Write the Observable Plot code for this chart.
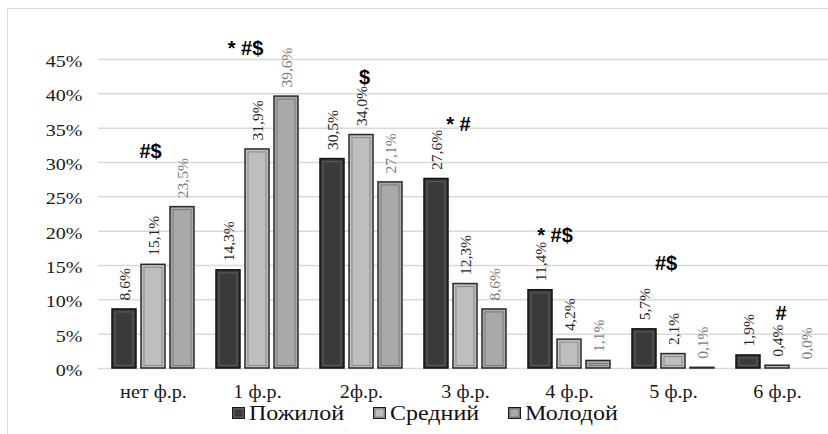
<!DOCTYPE html>
<html><head><meta charset="utf-8">
<script src="https://cdn.jsdelivr.net/npm/d3@7"></script>
<script src="https://cdn.jsdelivr.net/npm/@observablehq/plot@0.6"></script>
<style>
html,body{margin:0;padding:0;background:#fff;overflow:hidden;width:828px;height:434px;font-family:"Liberation Serif",serif;}
#wrap{position:relative;width:828px;height:434px;}
#frame{position:absolute;left:7px;top:8px;width:840px;height:450px;border:1px solid #d9d9d9;box-sizing:border-box;}
#chart{position:absolute;left:0;top:0;}
#legend{position:absolute;top:401px;left:0;width:828px;height:24px;font-family:"Liberation Serif",serif;font-size:20px;color:#111;}
.item{position:absolute;top:0;display:flex;align-items:center;height:24px;white-space:nowrap;}
.sw{width:13px;height:12px;box-sizing:border-box;border:1.5px solid #1a1a1a;margin-right:4px;flex:none;}
.item span{display:inline-block;transform:scaleX(1.2);transform-origin:left center;}
</style></head>
<body><div id="wrap"><div id="frame"></div><div id="chart"></div><div id="legend"></div></div>
<script>
const categories = ["нет ф.р.", "1 ф.р.", "2ф.р.", "3 ф.р.", "4 ф.р.", "5 ф.р.", "6 ф.р."];
const seriesNames = ["Пожилой", "Средний", "Молодой"];
const elderly = [8.6, 14.3, 30.5, 27.6, 11.4, 5.7, 1.9];
const middle  = [15.1, 31.9, 34.0, 12.3, 4.2, 2.1, 0.4];
const young   = [23.5, 39.6, 27.1, 8.6, 1.1, 0.1, 0.0];
const yTicks = [0, 5, 10, 15, 20, 25, 30, 35, 40, 45];
// significance marks
const annotCats = ["нет ф.р.", "1 ф.р.", "2ф.р.", "3 ф.р.", "4 ф.р.", "5 ф.р.", "6 ф.р."];
const annotText = ["#$", "* #$", "$", "* #", "* #$", "#$", "#"];
const annotY    = [31.6, 46.6, 42.3, 35.5, 19.4, 15.3, 8.0];
const annotDx   = [-3, -12, 3, -7, -14.5, -7.5, 3.5];

const SERIF = "Liberation Serif";
const fills   = ["#3b3b3b", "#bebebe", "#a9a9a9"];
const outers  = ["#111111", "#2a2a2a", "#2a2a2a"];
const inners  = ["#5a5a5a", "#8a8a8a", "#787878"];
const labelColors = ["#262626", "#262626", "#7a7a7a"];
const offsets = [-29, 0, 29];

const seriesValues = [elderly, middle, young];
const data = [];
seriesValues.forEach((vals, s) => vals.forEach((v, i) => data.push({cat: categories[i], series: s, value: v})));
const annots = annotCats.map((c, i) => ({cat: c, text: annotText[i], y: annotY[i], dx: annotDx[i]}));

const fmt = v => v.toFixed(1).replace(".", ",") + "%";

const marks = [
  Plot.gridY(yTicks, {stroke: "#d9d9d9", strokeOpacity: 1, strokeWidth: 1.5})
];
for (let s = 0; s < 3; s++) {
  const d = data.filter(r => r.series === s);
  marks.push(Plot.barY(d.filter(r => r.value > 0), {x: "cat", y: "value", fill: fills[s], stroke: outers[s], strokeWidth: 1.5, dx: offsets[s], insetLeft: 40, insetRight: 40}));
  marks.push(Plot.barY(d.filter(r => r.value > 0.6), {x: "cat", y: "value", fill: "none", stroke: inners[s], strokeWidth: 1, dx: offsets[s], insetLeft: 43, insetRight: 43, insetTop: 3, insetBottom: 2.5}));
  marks.push(Plot.text(d, {x: "cat", y: "value", text: r => fmt(r.value), rotate: -90, textAnchor: "start", lineAnchor: "middle", dx: offsets[s] + 1, dy: -9, fill: labelColors[s], fontSize: 15.5, fontFamily: SERIF}));
}
for (const a of annots) {
  marks.push(Plot.text([a], {x: "cat", y: "y", text: "text", dx: a.dx, fontFamily: "Liberation Sans", fontWeight: "bold", fontSize: 20, fill: "#000"}));
}
marks.push(Plot.axisY(yTicks, {tickSize: 0, tickPadding: 16, dy: 2, tickFormat: d => d + "%", fontSize: 17, fill: "#1a1a1a", fontFamily: SERIF}));
marks.push(Plot.axisX({tickSize: 0, tickPadding: 17, fontSize: 18, fill: "#1a1a1a", fontFamily: SERIF}));

const chart = Plot.plot({
  width: 828, height: 398,
  marginTop: 59, marginBottom: 30, marginLeft: 98, marginRight: 0,
  style: {background: "transparent", fontFamily: SERIF, overflow: "visible"},
  x: {type: "band", domain: categories, range: [97.9, 831.4], padding: 0, label: null},
  y: {domain: [0, 45], label: null},
  marks
});
// widen horizontal tick labels slightly, as in the reference rendering
function stretch(sel, s) {
  chart.querySelectorAll(sel).forEach(t => {
    const tr = t.getAttribute("transform");
    if (tr) t.setAttribute("transform", tr + ` scale(${s},1)`);
    else {
      const x = +t.getAttribute("x") || 0;
      t.setAttribute("transform", `translate(${x},0) scale(${s},1) translate(${-x},0)`);
    }
  });
}
stretch('g[aria-label="y-axis tick label"] text', 1.18);
stretch('g[aria-label="x-axis tick label"] text', 1.12);
document.getElementById("chart").appendChild(chart);

const legend = document.getElementById("legend");
const lefts = [232, 373, 508];
seriesNames.forEach((n, s) => {
  const it = document.createElement("div");
  it.className = "item";
  it.style.left = lefts[s] + "px";
  const sw = document.createElement("div");
  sw.className = "sw";
  sw.style.background = fills[s];
  sw.style.boxShadow = "inset 0 0 0 1.5px " + inners[s];
  it.appendChild(sw);
  const t = document.createElement("span");
  t.textContent = n;
  it.appendChild(t);
  legend.appendChild(it);
});
</script></body></html>
